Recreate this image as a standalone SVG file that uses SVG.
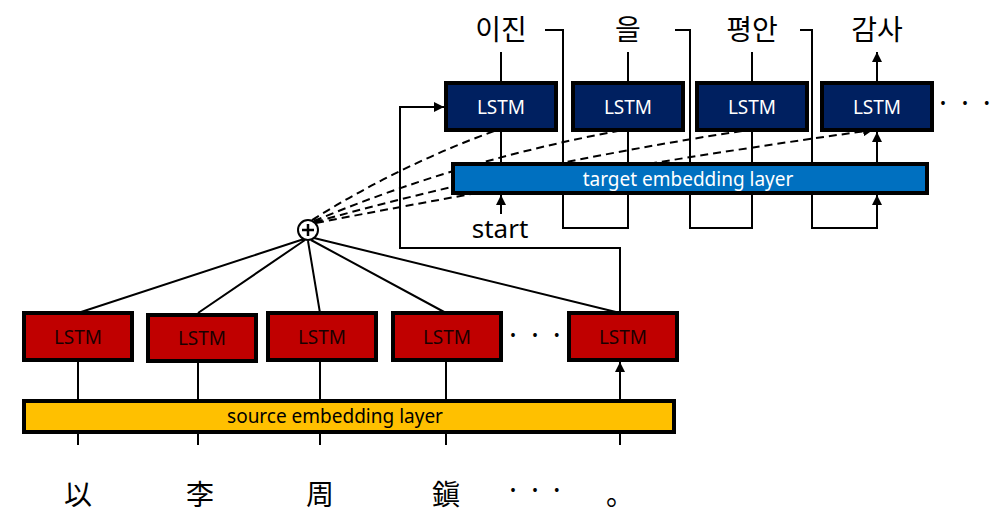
<svg xmlns="http://www.w3.org/2000/svg" width="1000" height="525" viewBox="0 0 1000 525">
<style>
.src rect{fill:#c00000;stroke:#000;stroke-width:4}
.tgt rect{fill:#002060;stroke:#000;stroke-width:4}
.src text{font:19px "Noto Sans",sans-serif;fill:#1a0000;text-anchor:middle}
.tgt text{font:19px "Noto Sans",sans-serif;fill:#fff;text-anchor:middle}
.w{font:28px "Noto Sans CJK KR","Noto Sans",sans-serif;fill:#000;text-anchor:middle}
.l{stroke:#000;stroke-width:2;fill:none}
.d{stroke:#000;stroke-width:2;fill:none;stroke-dasharray:8,5}
</style>
<defs><marker id="a" viewBox="0 0 10 10" refX="10" refY="5" markerWidth="5" markerHeight="5" orient="auto"><path d="M0,0L10,5L0,10z" fill="#000"/></marker></defs>
<rect width="1000" height="525" fill="#fff"/>
<g id="connectors">
<path class="l" d="M78,445V402M198,445V402M320,445V402M446,445V402M620,445V402" marker-end="url(#a)"/>
<path class="l" d="M78,400V362M198,400V362M320,400V362M446,400V362M620,400V362" marker-end="url(#a)"/>
<path class="l" d="M304,239L78,313M305,240L198,313M308,241L320,313M311,240L446,313M314,238L620,313"/>
<path class="l" d="M620,313V248H400V107H444" marker-end="url(#a)"/>
<path class="l" d="M501,83V52M628,83V52M752,83V52M877,83V52" marker-end="url(#a)"/>
<path class="l" d="M501,164V132M628,164V132M752,164V132M877,164V132" marker-end="url(#a)"/>
<path class="l" d="M501,214V195" marker-end="url(#a)"/>
<path class="l" d="M545,30H563V228H628V195M675,30H690V228H752V195M800,30H812V228H877V195" marker-end="url(#a)"/>
<path class="d" d="M312,220Q400,165 497,130M314,221Q460,160 623,130M315,222Q520,165 748,130M316,223Q600,168 873,130" marker-end="url(#a)"/>
</g>
<g id="plus"><circle cx="308" cy="230" r="10" fill="#fff" stroke="#000" stroke-width="2"/><path d="M302,230H314M308,224V236" stroke="#000" stroke-width="2.5"/></g>
<g id="src-emb"><rect x="24" y="401" width="650" height="31" fill="#ffc000" stroke="#000" stroke-width="4"/><text x="335" y="423" font-family="Noto Sans,sans-serif" font-size="19" text-anchor="middle">source embedding layer</text></g>
<g id="tgt-emb"><rect x="453" y="164" width="474" height="29" fill="#0070c0" stroke="#000" stroke-width="4"/><text x="688" y="186" font-family="Noto Sans,sans-serif" font-size="19" fill="#fff" text-anchor="middle">target embedding layer</text></g>
<g id="s1" class="src"><rect x="24" y="313" width="108" height="47"/><text x="78" y="344">LSTM</text></g>
<g id="s2" class="src"><rect x="148" y="315" width="108" height="46"/><text x="202" y="345">LSTM</text></g>
<g id="s3" class="src"><rect x="268" y="313" width="108" height="47"/><text x="322" y="344">LSTM</text></g>
<g id="s4" class="src"><rect x="393" y="313" width="108" height="47"/><text x="447" y="344">LSTM</text></g>
<g id="s5" class="src"><rect x="569" y="313" width="108" height="47"/><text x="623" y="344">LSTM</text></g>
<g id="t1" class="tgt"><rect x="446" y="83" width="110" height="47"/><text x="501" y="114">LSTM</text></g>
<g id="t2" class="tgt"><rect x="573" y="83" width="110" height="47"/><text x="628" y="114">LSTM</text></g>
<g id="t3" class="tgt"><rect x="697" y="83" width="110" height="47"/><text x="752" y="114">LSTM</text></g>
<g id="t4" class="tgt"><rect x="822" y="83" width="110" height="47"/><text x="877" y="114">LSTM</text></g>
<g id="words">
<text class="w" x="78" y="505">以</text><text class="w" x="200" y="505">李</text><text class="w" x="320" y="505">周</text><text class="w" x="446" y="505">鎭</text><text class="w" x="535" y="500">· · ·</text><text class="w" x="620" y="505">。</text>
<text class="w" x="535" y="345">· · ·</text>
<text class="w" x="501" y="40">이진</text><text class="w" x="628" y="40">을</text><text class="w" x="752" y="40">평안</text><text class="w" x="877" y="40">감사</text>
<text class="w" x="965" y="113">· · ·</text>
<text x="500" y="238" font-family="Noto Sans,sans-serif" font-size="26" text-anchor="middle">start</text>
</g>
</svg>
